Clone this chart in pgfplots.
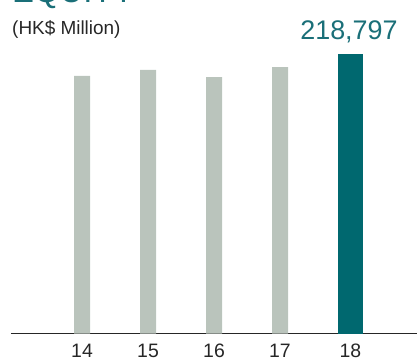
\documentclass[border=0pt]{standalone}
\usepackage{pgfplots}
\pgfplotsset{compat=1.18}
\usepackage{fontspec}
\setmainfont{Liberation Sans}
\definecolor{barGrey}{HTML}{BAC4BC}
\definecolor{barTeal}{HTML}{00686F}
\definecolor{txtTeal}{HTML}{1A6F78}
\begin{document}
\begin{tikzpicture}
\begin{axis}[
  scale only axis,
  width=406bp, height=279.7bp,
  xmin=12.924, xmax=19.076,
  ymin=0, ymax=218797,
  enlargelimits=false,
  axis y line=none,
  axis x line=bottom,
  x axis line style={-, line width=0.8bp, color=black!85},
  xtick={14,15,16,17,18.068},
  xticklabels={14,15,16,17,18},
  major tick length=0pt,
  xticklabel style={anchor=base, inner sep=0pt, yshift=-23.3bp, font=\fontsize{19.5}{22}\selectfont, text=black!85},
  /pgf/number format/assume math mode=true,
  ybar, bar shift=0pt,
  clip=false,
]
\addplot[fill=barGrey, draw=none, bar width=16bp] coordinates {(14,201600) (15,206300) (16,200800) (17,208600)};
\addplot[fill=barTeal, draw=none, bar width=25bp] coordinates {(18.068,218797)};
\node[anchor=base, inner sep=0pt, text=txtTeal, font=\fontsize{27}{30}\selectfont] at (axis cs:18.045,218797) [yshift=14bp] {218,797};
\end{axis}
\node[anchor=base west, inner sep=0pt, font=\fontsize{19}{22}\selectfont, text=black!85] at (1bp,299.2bp) {(HK\$ Million)};
\node[anchor=base west, inner sep=0pt, font=\fontsize{33}{36}\selectfont, text=txtTeal] at (1bp,330.7bp) {EQUITY};
\pgfresetboundingbox
\path[use as bounding box] (-11bp,-27.3bp) rectangle (406bp,333.7bp);
\end{tikzpicture}
\end{document}
